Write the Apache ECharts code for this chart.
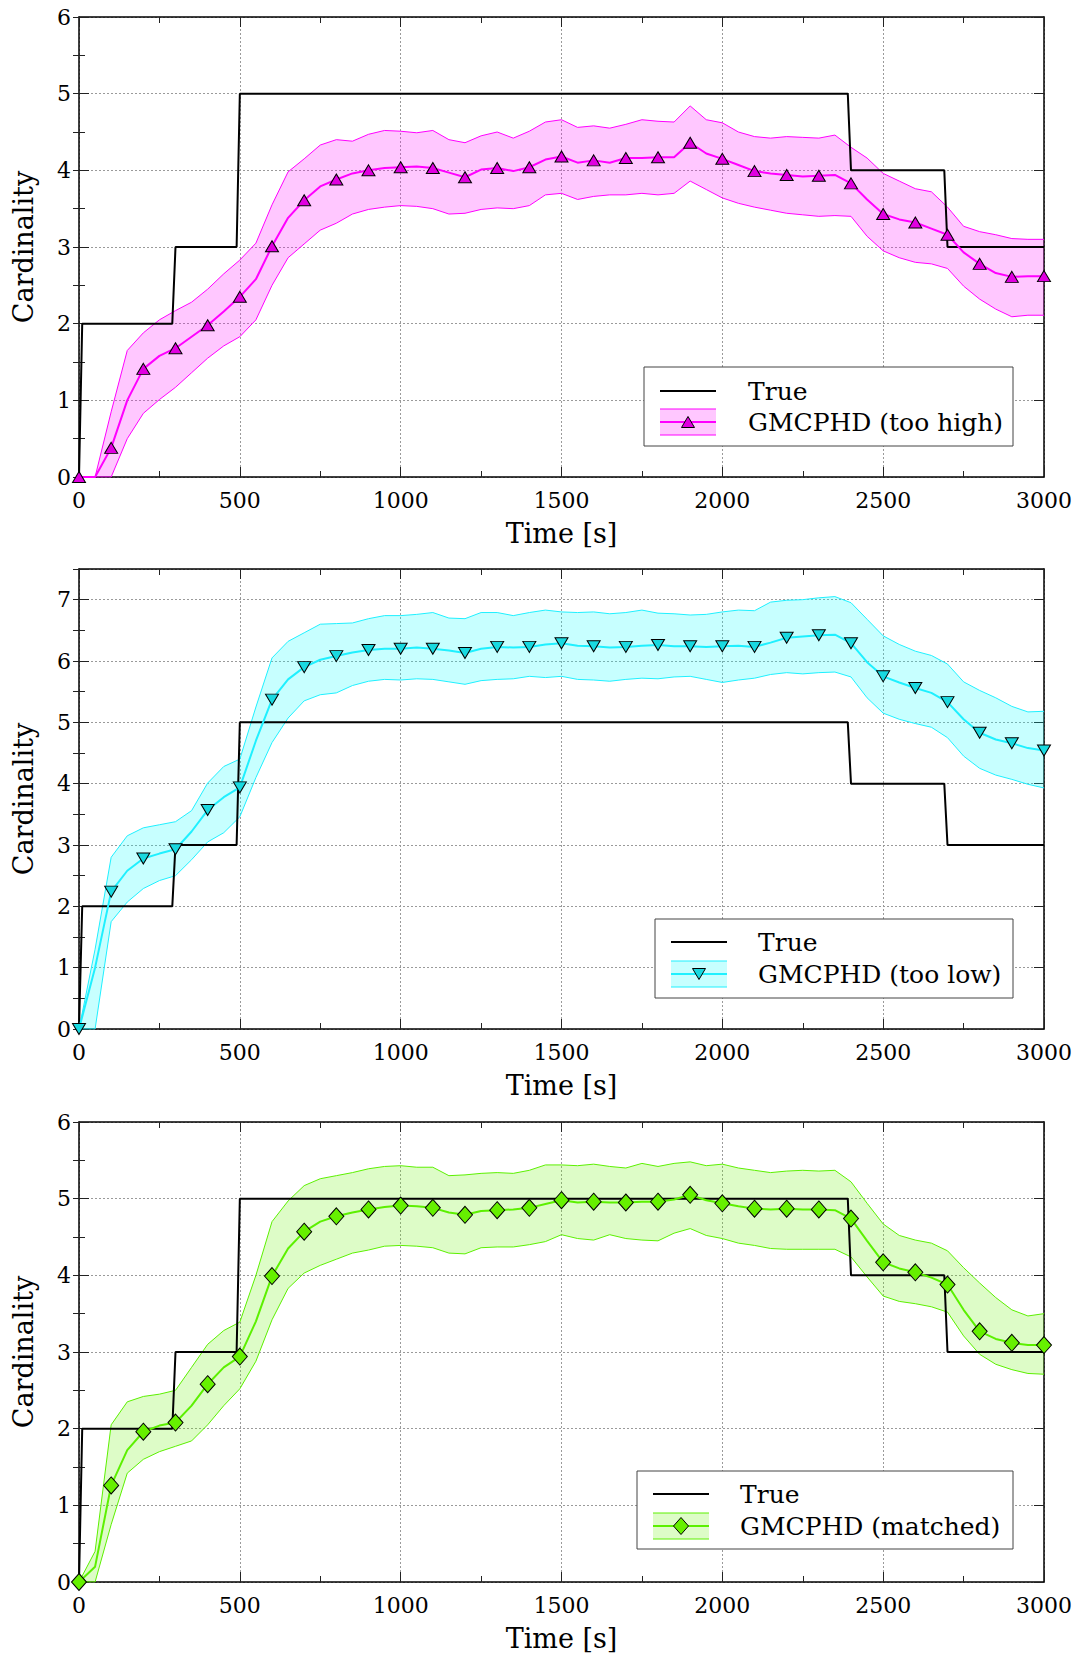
<!DOCTYPE html>
<html>
<head>
<meta charset="utf-8">
<script src="https://cdn.jsdelivr.net/npm/echarts@6/dist/echarts.min.js"></script>
<style>
  html, body { margin: 0; padding: 0; background: #fff; }
  #chart { width: 1080px; height: 1653px; }
</style>
</head>
<body>
<div id="chart"></div>
<script>
// Sample times (s) shared by the estimate, band and marker series
const TIME = [0, 50, 100, 150, 200, 250, 300, 350, 400, 450, 500, 550, 600, 650, 700, 750, 800, 850, 900, 950,
  1000, 1050, 1100, 1150, 1200, 1250, 1300, 1350, 1400, 1450, 1500, 1550, 1600, 1650, 1700, 1750, 1800, 1850, 1900, 1950,
  2000, 2050, 2100, 2150, 2200, 2250, 2300, 2350, 2400, 2450, 2500, 2550, 2600, 2650, 2700, 2750, 2800, 2850, 2900, 2950, 3000];

// Ground-truth number of targets (step function, sampled every 10 s around the changes)
const TRUE_TIME = [0, 10, 290, 300, 490, 500, 2390, 2400, 2690, 2700, 3000];
const TRUE_COUNT = [0, 2, 2, 3, 3, 5, 5, 4, 4, 3, 3];

// GMCPHD, detection probability set too high
const HIGH_MEAN = [0, 0, 0.38, 1.0, 1.41, 1.58, 1.68, 1.83, 1.98, 2.16, 2.35, 2.58, 3.01, 3.38, 3.61, 3.79, 3.88, 3.96, 4.00, 4.03,
  4.04, 4.05, 4.03, 3.97, 3.91, 4.01, 4.03, 3.99, 4.04, 4.14, 4.18, 4.10, 4.13, 4.10, 4.16, 4.16, 4.17, 4.17, 4.36, 4.22,
  4.15, 4.07, 3.99, 3.96, 3.94, 3.92, 3.93, 3.94, 3.83, 3.62, 3.43, 3.36, 3.32, 3.24, 3.16, 2.93, 2.78, 2.66, 2.61, 2.62, 2.62];
const HIGH_UPPER = [0, 0, 0.85, 1.65, 1.88, 2.05, 2.17, 2.28, 2.45, 2.65, 2.83, 3.05, 3.55, 3.98, 4.15, 4.33, 4.40, 4.38, 4.47, 4.52,
  4.51, 4.49, 4.52, 4.40, 4.36, 4.45, 4.50, 4.42, 4.51, 4.63, 4.66, 4.56, 4.58, 4.55, 4.60, 4.66, 4.64, 4.63, 4.84, 4.66,
  4.62, 4.50, 4.44, 4.42, 4.44, 4.43, 4.42, 4.46, 4.30, 4.16, 3.96, 3.86, 3.76, 3.72, 3.52, 3.27, 3.20, 3.16, 3.11, 3.10, 3.10];
const HIGH_LOWER = [0, 0, 0, 0.50, 0.83, 1.01, 1.17, 1.36, 1.55, 1.71, 1.83, 2.05, 2.50, 2.86, 3.04, 3.22, 3.31, 3.43, 3.49, 3.52,
  3.54, 3.53, 3.50, 3.43, 3.44, 3.49, 3.51, 3.50, 3.54, 3.68, 3.70, 3.62, 3.66, 3.68, 3.68, 3.70, 3.68, 3.70, 3.86, 3.75,
  3.64, 3.57, 3.52, 3.48, 3.44, 3.42, 3.40, 3.41, 3.40, 3.14, 2.95, 2.86, 2.80, 2.78, 2.72, 2.49, 2.32, 2.19, 2.09, 2.11, 2.11];

// GMCPHD, detection probability set too low
const LOW_MEAN = [0, 1.0, 2.24, 2.58, 2.78, 2.86, 2.93, 3.22, 3.57, 3.78, 3.94, 4.70, 5.37, 5.70, 5.90, 6.02, 6.08, 6.14, 6.18, 6.20,
  6.20, 6.22, 6.20, 6.17, 6.13, 6.20, 6.23, 6.22, 6.23, 6.27, 6.29, 6.25, 6.24, 6.22, 6.23, 6.25, 6.26, 6.24, 6.24, 6.23,
  6.24, 6.25, 6.23, 6.30, 6.38, 6.40, 6.42, 6.43, 6.29, 5.98, 5.75, 5.65, 5.56, 5.48, 5.33, 5.05, 4.83, 4.72, 4.66, 4.58, 4.54];
const LOW_UPPER = [0, 1.3, 2.8, 3.15, 3.28, 3.33, 3.38, 3.56, 4.01, 4.28, 4.40, 5.25, 6.05, 6.32, 6.46, 6.60, 6.61, 6.62, 6.69, 6.74,
  6.74, 6.76, 6.79, 6.70, 6.69, 6.79, 6.79, 6.74, 6.79, 6.83, 6.80, 6.79, 6.80, 6.77, 6.79, 6.83, 6.78, 6.77, 6.75, 6.76,
  6.80, 6.83, 6.82, 6.96, 6.99, 7.00, 7.03, 7.05, 6.95, 6.68, 6.41, 6.27, 6.16, 6.09, 5.95, 5.66, 5.52, 5.40, 5.26, 5.17, 5.18];
const LOW_LOWER = [0, 0, 1.75, 2.07, 2.29, 2.42, 2.50, 2.76, 3.05, 3.20, 3.46, 4.10, 4.67, 5.07, 5.35, 5.45, 5.48, 5.60, 5.67, 5.70,
  5.69, 5.71, 5.70, 5.66, 5.62, 5.68, 5.70, 5.71, 5.75, 5.73, 5.75, 5.70, 5.69, 5.67, 5.70, 5.72, 5.71, 5.74, 5.75, 5.70,
  5.65, 5.69, 5.72, 5.78, 5.81, 5.79, 5.81, 5.82, 5.74, 5.40, 5.15, 5.05, 4.98, 4.92, 4.75, 4.45, 4.25, 4.14, 4.07, 3.99, 3.93];

// GMCPHD, matched detection probability
const MATCH_MEAN = [0, 0.2, 1.26, 1.72, 1.96, 2.04, 2.08, 2.30, 2.58, 2.80, 2.94, 3.40, 3.99, 4.35, 4.57, 4.70, 4.77, 4.82, 4.86, 4.89,
  4.91, 4.90, 4.88, 4.82, 4.79, 4.84, 4.85, 4.86, 4.88, 4.93, 4.98, 4.95, 4.96, 4.95, 4.95, 4.96, 4.96, 4.99, 5.05, 4.98,
  4.94, 4.90, 4.87, 4.86, 4.87, 4.86, 4.86, 4.85, 4.74, 4.45, 4.17, 4.09, 4.04, 3.97, 3.88, 3.55, 3.27, 3.17, 3.12, 3.09, 3.09];
const MATCH_UPPER = [0, 0.4, 2.05, 2.35, 2.42, 2.45, 2.50, 2.80, 3.10, 3.28, 3.39, 4.00, 4.70, 4.97, 5.17, 5.26, 5.30, 5.34, 5.39, 5.42,
  5.43, 5.41, 5.41, 5.30, 5.31, 5.33, 5.34, 5.33, 5.37, 5.44, 5.44, 5.43, 5.45, 5.42, 5.40, 5.46, 5.42, 5.46, 5.48, 5.43,
  5.45, 5.40, 5.37, 5.34, 5.36, 5.37, 5.36, 5.37, 5.22, 4.94, 4.67, 4.52, 4.46, 4.42, 4.32, 4.10, 3.90, 3.71, 3.55, 3.47, 3.50];
const MATCH_LOWER = [0, 0, 0.75, 1.42, 1.60, 1.70, 1.77, 1.84, 2.05, 2.30, 2.52, 2.88, 3.42, 3.83, 4.03, 4.13, 4.21, 4.29, 4.33, 4.38,
  4.39, 4.38, 4.36, 4.29, 4.28, 4.36, 4.37, 4.37, 4.40, 4.44, 4.53, 4.48, 4.46, 4.53, 4.48, 4.46, 4.45, 4.55, 4.61, 4.52,
  4.48, 4.42, 4.39, 4.35, 4.34, 4.34, 4.34, 4.34, 4.24, 3.98, 3.73, 3.66, 3.63, 3.59, 3.52, 3.21, 2.97, 2.84, 2.77, 2.72, 2.71];

const LEGEND_TRUE = 'True';
const LEGEND_NAMES = ['GMCPHD (too high)', 'GMCPHD (too low)', 'GMCPHD (matched)'];
const Y_MAX = [6, 7.5, 6];
const X_AXIS_TITLE = 'Time [s]';
const Y_AXIS_TITLE = 'Cardinality';

const FONT = 'DejaVu Serif';
const GRID_LEFT = 79, GRID_RIGHT = 36, GRID_HEIGHT = 460;
const PANEL_TOPS = [17, 569, 1122];

const PANELS = [
  { mean: HIGH_MEAN, upper: HIGH_UPPER, lower: HIGH_LOWER, name: LEGEND_NAMES[0],
    line: '#ff00ff', band: 'rgba(255,0,255,0.22)', marker: '#e000e0', symbol: 'triangle', rotate: 0, size: [13, 11],
    legend: { x: 644, y: 367, w: 369, h: 79, sx: 660, r1: 24, r2: 55, tx: 748 } },
  { mean: LOW_MEAN, upper: LOW_UPPER, lower: LOW_LOWER, name: LEGEND_NAMES[1],
    line: '#1ff0ff', band: 'rgba(0,255,255,0.22)', marker: '#19d9e0', symbol: 'triangle', rotate: 180, size: [13, 11],
    legend: { x: 655, y: 919, w: 358, h: 79, sx: 671, r1: 23, r2: 55, tx: 758 } },
  { mean: MATCH_MEAN, upper: MATCH_UPPER, lower: MATCH_LOWER, name: LEGEND_NAMES[2],
    line: '#5cf000', band: 'rgba(100,240,0,0.22)', marker: '#66f000', symbol: 'diamond', rotate: 0, size: [15, 17],
    legend: { x: 637, y: 1471, w: 376, h: 78, sx: 653, r1: 23, r2: 55, tx: 740 } }
];

const grids = [], xAxes = [], yAxes = [], series = [], graphics = [];
const tickStyle = { color: '#222', width: 1 };
const labelStyle = { fontFamily: FONT, fontSize: 22, color: '#000' };

PANELS.forEach((p, i) => {
  grids.push({ left: GRID_LEFT, right: GRID_RIGHT, top: PANEL_TOPS[i], height: GRID_HEIGHT });

  const xBase = {
    gridIndex: i, type: 'value', min: 0, max: 3000, interval: 500,
    axisLine: { show: true, onZero: false, lineStyle: { color: '#000', width: 1.5 } },
    axisTick: { show: true, inside: true, length: 10, lineStyle: tickStyle },
    minorTick: { show: true, splitNumber: 2, length: 6, lineStyle: tickStyle }
  };
  xAxes.push(Object.assign({}, xBase, {
    position: 'bottom',
    name: X_AXIS_TITLE, nameLocation: 'middle', nameGap: 43,
    nameTextStyle: { fontFamily: FONT, fontSize: 27, color: '#000' },
    axisLabel: Object.assign({ margin: 12, formatter: v => String(v) }, labelStyle),
    splitLine: { show: true, lineStyle: { color: '#9a9a9a', width: 1, type: [2, 2] } }
  }));
  xAxes.push(Object.assign({}, xBase, {
    position: 'top', axisLabel: { show: false }, splitLine: { show: false }
  }));

  const yMain = {
    gridIndex: i, type: 'value', min: 0, max: Y_MAX[i], interval: 1,
    axisLine: { show: true, onZero: false, lineStyle: { color: '#000', width: 1.5 } },
    axisTick: { show: true, inside: true, length: 10, lineStyle: tickStyle }
  };
  yAxes.push(Object.assign({}, yMain, {
    position: 'left',
    name: Y_AXIS_TITLE, nameLocation: 'middle', nameGap: 42, nameRotate: 90,
    nameTextStyle: { fontFamily: FONT, fontSize: 27, color: '#000' },
    axisLabel: Object.assign({ margin: 8, formatter: v => (Number.isInteger(v) ? String(v) : '') }, labelStyle),
    splitLine: { show: true, lineStyle: { color: '#9a9a9a', width: 1, type: [2, 2] } }
  }));
  yAxes.push(Object.assign({}, yMain, {
    position: 'right', axisLabel: { show: false }, splitLine: { show: false }
  }));
  // half-unit minor ticks on both vertical edges
  ['left', 'right'].forEach(pos => {
    yAxes.push({
      gridIndex: i, type: 'value', min: 0, max: Y_MAX[i], interval: 0.5, position: pos,
      axisLine: { show: false }, axisLabel: { show: false }, splitLine: { show: false },
      axisTick: { show: true, inside: true, length: 6, lineStyle: tickStyle }
    });
  });

  const xi = 2 * i, yi = 4 * i;
  // shaded uncertainty band between the lower and upper curves
  series.push({
    type: 'custom', xAxisIndex: xi, yAxisIndex: yi, z: 1, silent: true,
    data: [[0, 0]],
    renderItem: (params, api) => {
      const pts = [];
      TIME.forEach((t, k) => pts.push(api.coord([t, p.upper[k]])));
      for (let k = TIME.length - 1; k >= 0; k--) pts.push(api.coord([TIME[k], p.lower[k]]));
      return { type: 'polygon', shape: { points: pts }, style: { fill: p.band, stroke: null } };
    }
  });
  // band edges
  [p.lower, p.upper].forEach(edge => {
    series.push({
      type: 'line', xAxisIndex: xi, yAxisIndex: yi, z: 2,
      data: TIME.map((t, k) => [t, edge[k]]),
      symbol: 'none', lineStyle: { color: p.line, width: 1 }, itemStyle: { color: p.line }
    });
  });
  // true cardinality
  series.push({
    type: 'line', xAxisIndex: xi, yAxisIndex: yi, z: 3,
    data: TRUE_TIME.map((t, k) => [t, TRUE_COUNT[k]]),
    symbol: 'none', lineStyle: { color: '#000', width: 2 }, itemStyle: { color: '#000' }
  });
  // mean estimate, marker every 100 s
  series.push({
    type: 'line', xAxisIndex: xi, yAxisIndex: yi, z: 4,
    data: TIME.map((t, k) => (k % 2 === 0 ? { value: [t, p.mean[k]] } : { value: [t, p.mean[k]], symbol: 'none' })),
    showSymbol: true, showAllSymbol: true,
    symbol: p.symbol, symbolSize: p.size, symbolRotate: p.rotate,
    lineStyle: { color: p.line, width: 2 },
    itemStyle: { color: p.marker, borderColor: '#000', borderWidth: 1 }
  });

  // legend box
  const L = p.legend;
  const r1 = L.y + L.r1, r2 = L.y + L.r2, sw = 56, cx = L.sx + sw / 2;
  let markerPts;
  if (p.symbol === 'diamond') {
    markerPts = [[cx, r2 - 8.5], [cx + 7.5, r2], [cx, r2 + 8.5], [cx - 7.5, r2]];
  } else if (p.rotate === 180) {
    markerPts = [[cx - 6.5, r2 - 5.5], [cx + 6.5, r2 - 5.5], [cx, r2 + 5.5]];
  } else {
    markerPts = [[cx - 6.5, r2 + 5.5], [cx + 6.5, r2 + 5.5], [cx, r2 - 5.5]];
  }
  graphics.push(
    { type: 'rect', z: 100, shape: { x: L.x, y: L.y, width: L.w, height: L.h }, style: { fill: '#fff', stroke: '#444', lineWidth: 1 } },
    { type: 'line', z: 101, shape: { x1: L.sx, y1: r1, x2: L.sx + sw, y2: r1 }, style: { stroke: '#000', lineWidth: 2 } },
    { type: 'rect', z: 101, shape: { x: L.sx, y: r2 - 13, width: sw, height: 26 }, style: { fill: p.band } },
    { type: 'line', z: 102, shape: { x1: L.sx, y1: r2 - 13, x2: L.sx + sw, y2: r2 - 13 }, style: { stroke: p.line, lineWidth: 1 } },
    { type: 'line', z: 102, shape: { x1: L.sx, y1: r2 + 13, x2: L.sx + sw, y2: r2 + 13 }, style: { stroke: p.line, lineWidth: 1 } },
    { type: 'line', z: 102, shape: { x1: L.sx, y1: r2, x2: L.sx + sw, y2: r2 }, style: { stroke: p.line, lineWidth: 2 } },
    { type: 'polygon', z: 103, shape: { points: markerPts }, style: { fill: p.marker, stroke: '#000', lineWidth: 1 } },
    { type: 'text', z: 103, x: L.tx, y: r1, style: { text: LEGEND_TRUE, fontFamily: FONT, fontSize: 25, fill: '#000', verticalAlign: 'middle' } },
    { type: 'text', z: 103, x: L.tx, y: r2, style: { text: p.name, fontFamily: FONT, fontSize: 25, fill: '#000', verticalAlign: 'middle' } }
  );
});

const chart = echarts.init(document.getElementById('chart'), null, { renderer: 'svg', width: 1080, height: 1653 });
chart.setOption({
  animation: false,
  backgroundColor: '#fff',
  textStyle: { fontFamily: FONT },
  grid: grids,
  xAxis: xAxes,
  yAxis: yAxes,
  series: series,
  graphic: graphics
});
</script>
</body>
</html>
